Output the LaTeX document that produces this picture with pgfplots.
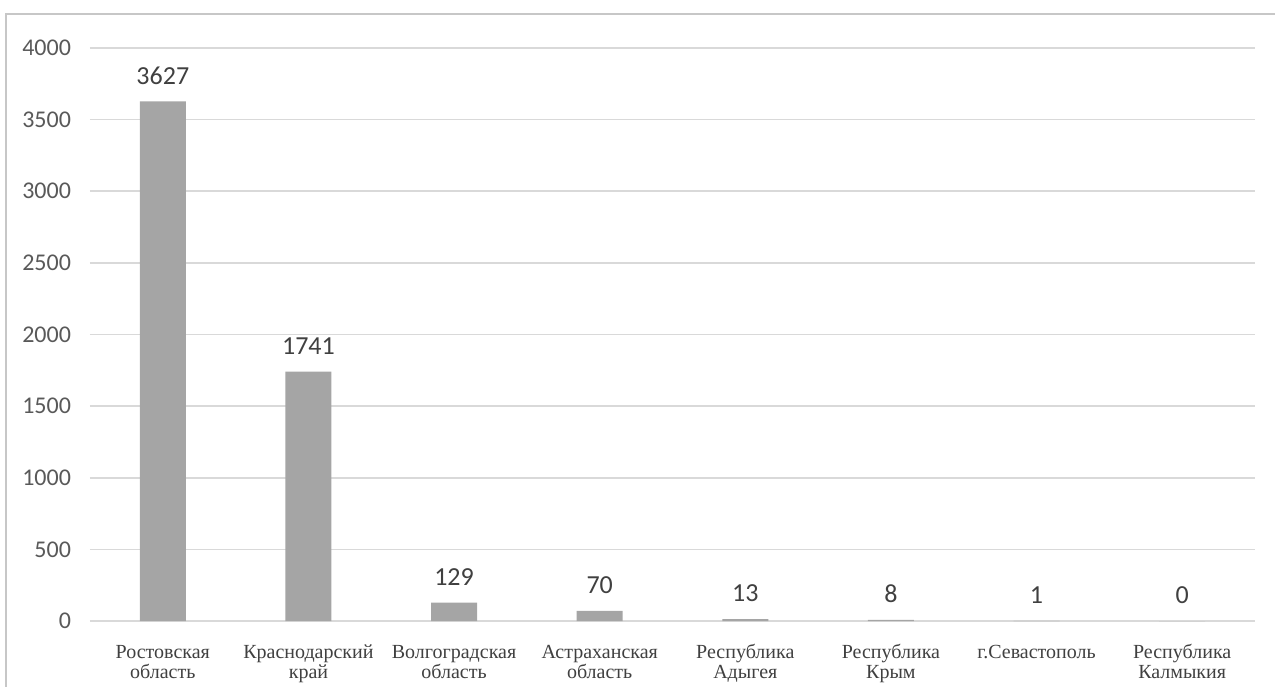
\documentclass[border=0pt]{standalone}
\usepackage{pgfplots}
\pgfplotsset{compat=1.18}
\usepackage{fontspec}
\setmainfont{Liberation Serif}
\newfontfamily\carl{Carlito}
\definecolor{barc}{HTML}{A5A5A5}
\definecolor{gridc}{HTML}{D9D9D9}
\definecolor{tickc}{HTML}{595959}
\definecolor{labc}{HTML}{404040}
\newcommand{\fl}{\rule{0pt}{10pt}}
\begin{document}
\begin{tikzpicture}
\useasboundingbox (-45pt,-32.5pt) rectangle (592.5pt,310.5pt);
\draw[gridc!80!gray, line width=1pt] (-42pt,-40pt) -- (-42pt,303.5pt) -- (600pt,303.5pt);
\begin{axis}[
  scale only axis,
  width=582.5pt, height=286.5pt,
  xmin=-0.5, xmax=7.5, ymin=0, ymax=4000,
  axis line style={draw=none},
  ybar, bar width=23pt,
  ytick={0,500,...,4000},
  xtick=data,
  xticklabels={{\fl Ростовская\\область},{\fl Краснодарский\\край},{\fl Волгоградская\\область},{\fl Астраханская\\область},{\fl Республика\\Адыгея},{\fl Республика\\Крым},{\fl г.Севастополь},{\fl Республика\\Калмыкия}},
  ymajorgrids,
  grid style={gridc, line width=0.8pt},
  major tick length=0pt,
  tick style={draw=none},
  /pgf/number format/assume math mode=true,
  /pgf/number format/set thousands separator={},
  yticklabel style={font=\carl\fontsize{12}{13}\selectfont, text=tickc, xshift=-6pt},
  xticklabel style={font=\fontsize{10}{10.2}\selectfont, text=labc, align=center, anchor=north, yshift=-5pt},
  nodes near coords,
  nodes near coords style={font=\carl\fontsize{13}{14}\selectfont, text=labc, anchor=south, yshift=5pt},
  clip=false,
]
\addplot[fill=barc, draw=none] coordinates {(0,3627) (1,1741) (2,129) (3,70) (4,13) (5,8) (6,1) (7,0)};
\end{axis}
\end{tikzpicture}
\end{document}
